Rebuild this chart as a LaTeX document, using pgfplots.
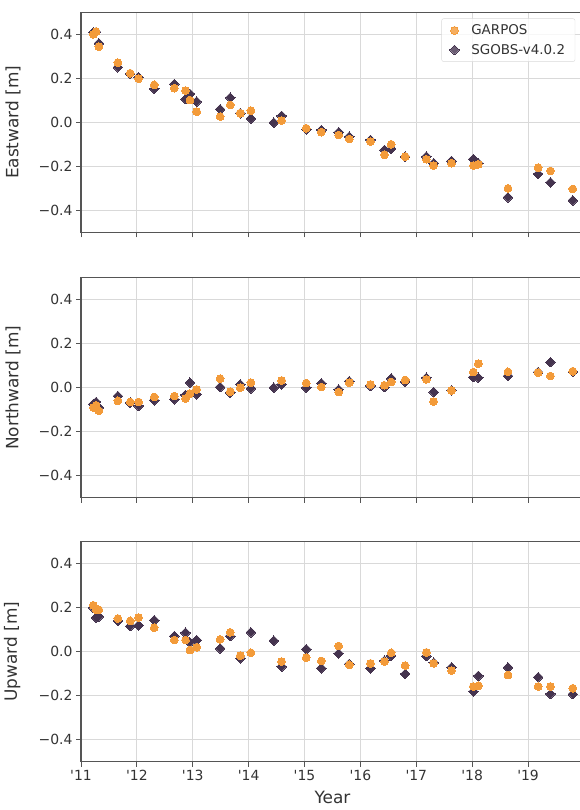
\documentclass[border=0pt]{standalone}
\usepackage{fontspec}
\setmainfont{DejaVu Sans}[Ligatures=TeXOff]
\usepackage{pgfplots}
\usepackage{pgfplotstable}
\pgfplotsset{compat=1.18}
\definecolor{garpos}{HTML}{F39B3A}
\definecolor{sgobs}{HTML}{45344F}
\definecolor{spine}{HTML}{555555}
\definecolor{gridc}{HTML}{D9D9D9}
\definecolor{tickc}{HTML}{333333}

\pgfplotstableread{
t E N U
2011.22 0.400 -0.090 0.211
2011.27 0.412 -0.080 0.190
2011.32 0.344 -0.105 0.190
2011.66 0.271 -0.060 0.151
2011.88 0.223 -0.065 0.140
2012.03 0.198 -0.065 0.155
2012.31 0.170 -0.042 0.109
2012.67 0.155 -0.038 0.053
2012.87 0.144 -0.050 0.053
2012.95 0.101 -0.027 0.008
2013.07 0.048 -0.008 0.020
2013.49 0.026 0.041 0.056
2013.67 0.079 -0.018 0.088
2013.85 0.041 0.000 -0.018
2014.04 0.053 0.023 -0.005
2014.59 0.008 0.033 -0.045
2015.03 -0.027 0.021 -0.027
2015.30 -0.045 0.003 -0.042
2015.61 -0.058 -0.020 0.026
2015.80 -0.076 0.023 -0.060
2016.18 -0.088 0.015 -0.053
2016.43 -0.148 0.011 -0.045
2016.55 -0.100 0.026 -0.005
2016.80 -0.156 0.035 -0.063
2017.18 -0.168 0.038 -0.003
2017.31 -0.197 -0.063 -0.053
2017.63 -0.186 -0.012 -0.086
2018.02 -0.197 0.071 -0.158
2018.11 -0.191 0.109 -0.155
2018.64 -0.300 0.072 -0.106
2019.18 -0.206 0.068 -0.158
2019.40 -0.221 0.053 -0.158
2019.80 -0.303 0.075 -0.166
}\garpos

\pgfplotstableread{
t E N U
2011.22 0.409 -0.075 0.200
2011.27 0.410 -0.065 0.155
2011.32 0.359 -0.090 0.160
2011.66 0.250 -0.038 0.140
2011.88 0.220 -0.068 0.116
2012.03 0.205 -0.083 0.120
2012.31 0.152 -0.057 0.143
2012.67 0.174 -0.053 0.071
2012.87 0.105 -0.033 0.086
2012.95 0.129 0.023 0.042
2013.07 0.094 -0.030 0.053
2013.49 0.059 0.003 0.015
2013.67 0.112 -0.023 0.071
2013.85 0.041 0.015 -0.030
2014.04 0.017 -0.003 0.088
2014.45 -0.002 0.000 0.050
2014.59 0.029 0.015 -0.068
2015.03 -0.032 0.000 0.011
2015.30 -0.035 0.020 -0.075
2015.61 -0.045 -0.008 -0.008
2015.80 -0.065 0.030 -0.056
2016.18 -0.080 0.008 -0.075
2016.43 -0.126 0.003 -0.041
2016.55 -0.121 0.042 -0.018
2016.80 -0.156 0.027 -0.101
2017.18 -0.156 0.045 -0.020
2017.31 -0.186 -0.020 -0.050
2017.63 -0.176 -0.012 -0.071
2018.02 -0.167 0.048 -0.181
2018.11 -0.186 0.045 -0.110
2018.64 -0.341 0.053 -0.072
2019.18 -0.235 0.071 -0.116
2019.40 -0.273 0.116 -0.192
2019.80 -0.355 0.072 -0.193
}\sgobs

\pgfplotsset{
  panel/.style={
    scale only axis,
    width=503bp, height=220bp,
    anchor=south west,
    xmin=2011, xmax=2020,
    ymin=-0.5, ymax=0.5,
    xtick={2011,2012,...,2019},
    ytick={-0.4,-0.2,0,0.2,0.4},
    yticklabels={−0.4,−0.2,0.0,0.2,0.4},
    grid=major,
    major grid style={gridc, line width=1bp},
    axis line style={spine, line width=1.1bp},
    tick style={spine, line width=1bp},
    tick align=outside,
    major tick length=5bp,
    xtick pos=bottom, ytick pos=left,
    tick label style={font=\fontsize{14}{16}\selectfont, text=tickc},
    ylabel style={font=\fontsize{17}{20}\selectfont, text=tickc,
      at={(axis description cs:-0.1133,0.5)}, anchor=south},
    xlabel style={font=\fontsize{17}{20}\selectfont, text=tickc},
    clip=false,
  },
  gar/.style={only marks, mark=*, mark size=3.9bp, color=garpos,
    mark options={draw=garpos, fill=garpos, line width=0pt}},
  sgo/.style={only marks, mark=square*, mark size=3.4bp, color=sgobs,
    mark options={draw=sgobs, fill=sgobs, line width=0pt, rotate=45}},
}

\begin{document}
\begin{tikzpicture}
\useasboundingbox (0,0) rectangle (580bp,810bp);
% Eastward
\begin{axis}[panel, at={(81bp,577.7bp)},
  xticklabels={},
  ylabel={Eastward [m]},
  reverse legend,
  legend style={at={(axis description cs:0.9826,0.972)}, anchor=north east,
    draw=gridc, rounded corners=2bp, fill=white, fill opacity=0.8, text opacity=1,
    font=\fontsize{13.5}{16}\selectfont, text=tickc,
    inner xsep=8bp, inner ysep=4bp, row sep=4bp,
    /tikz/every odd column/.append style={column sep=10bp}},
  legend image code/.code={\draw[#1] plot coordinates {(0.2cm,0cm)};},
  legend cell align=left,
]
\addplot[sgo] table[x=t, y=E] {\sgobs};
\addlegendentry{SGOBS-v4.0.2}
\addplot[gar] table[x=t, y=E] {\garpos};
\addlegendentry{GARPOS}
\end{axis}
% Northward
\begin{axis}[panel, at={(81bp,312.3bp)},
  xticklabels={},
  ylabel={Northward [m]},
]
\addplot[sgo] table[x=t, y=N] {\sgobs};
\addplot[gar] table[x=t, y=N] {\garpos};
\end{axis}
% Upward
\begin{axis}[panel, at={(81bp,48.3bp)},
  xticklabels={'11,'12,'13,'14,'15,'16,'17,'18,'19},
  ylabel={Upward [m]},
  xlabel={Year},
  xlabel style={at={(axis description cs:0.5,0)}, anchor=north, yshift=-26bp},
]
\addplot[sgo] table[x=t, y=U] {\sgobs};
\addplot[gar] table[x=t, y=U] {\garpos};
\end{axis}
\end{tikzpicture}
\end{document}
